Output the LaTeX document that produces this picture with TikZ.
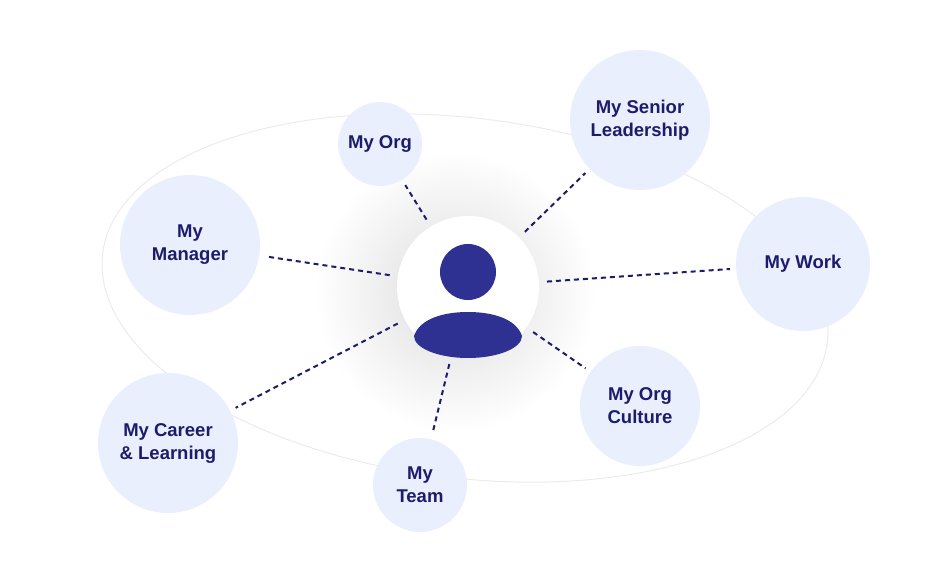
\documentclass[tikz,border=0pt]{standalone}
\usepackage{fontspec}
\setmainfont{Liberation Sans}
\definecolor{navy}{HTML}{1C1C6B}
\definecolor{icon}{HTML}{2E3192}
\definecolor{bubble}{HTML}{E9EFFD}
\definecolor{orbit}{HTML}{EBEBEB}
\tikzset{
  topic/.style={circle, fill=bubble, text=navy, align=center, inner sep=0pt,
    font=\fontsize{18.5}{23}\selectfont\bfseries},
  link/.style={navy, line width=2pt, dash pattern=on 5pt off 4pt,
    shorten <=4pt, shorten >=6pt}
}
\begin{document}
\begin{tikzpicture}[x=1pt, y=-1pt]
\useasboundingbox (0,0) rectangle (952,580);
%%%% Orbit and glow:
\draw[orbit, line width=1pt, rotate around={-7:(465,298)}] (465,298) ellipse (365 and 180);
\shade[inner color=black!14, outer color=white] (455,292) circle (140);
%%%% Centre:
\node[circle, fill=white, minimum size=142pt] (me) at (468,287) {};
\fill[icon] (468,272) circle (28);
\fill[icon] (414,336) arc[start angle=180, end angle=360, x radius=54, y radius=-22]
  -- cycle;
\fill[icon] (414,336) .. controls (420,318) and (445,312) .. (468,312)
  .. controls (491,312) and (516,318) .. (522,336) -- cycle;
\node[circle, minimum size=150pt] (hub) at (468,287) {};
%%%% Topics:
\node[topic, minimum size=84pt]  (org)     at (380,144) {My Org};
\node[topic, minimum size=140pt] (senior)  at (640,120) {My Senior\\Leadership};
\node[topic, minimum size=140pt] (manager) at (190,245) {My\\Manager};
\node[topic, minimum size=134pt] (work)    at (803,264) {My Work};
\node[topic, minimum size=120pt] (culture) at (640,406) {My Org\\Culture};
\node[topic, minimum size=140pt] (career)  at (168,443) {My Career\\\& Learning};
\node[topic, minimum size=94pt]  (team)    at (420,485) {My\\Team};
%%%% Links:
\foreach \t in {org,senior,manager,work,culture,career,team}
  \draw[link] (hub) -- (\t);
\end{tikzpicture}
\end{document}
